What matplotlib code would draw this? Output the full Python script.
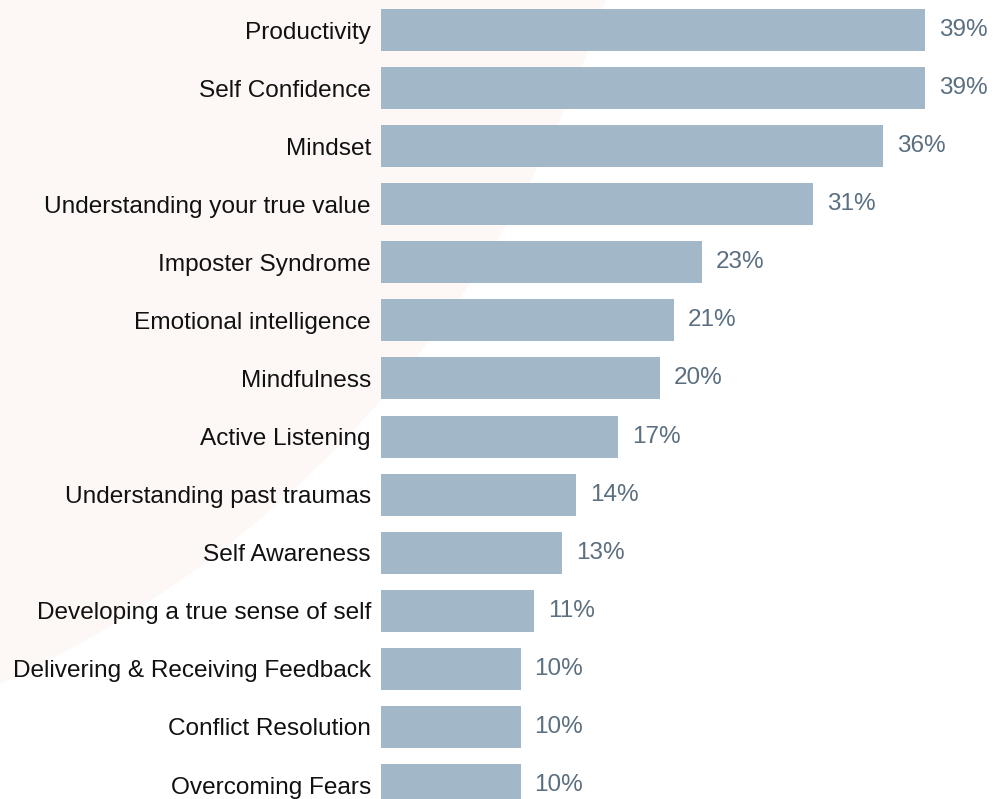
import matplotlib
matplotlib.use("Agg")
import matplotlib.pyplot as plt
from matplotlib.patches import Ellipse

categories = [
    "Productivity",
    "Self Confidence",
    "Mindset",
    "Understanding your true value",
    "Imposter Syndrome",
    "Emotional intelligence",
    "Mindfulness",
    "Active Listening",
    "Understanding past traumas",
    "Self Awareness",
    "Developing a true sense of self",
    "Delivering & Receiving Feedback",
    "Conflict Resolution",
    "Overcoming Fears",
]
values = [39, 39, 36, 31, 23, 21, 20, 17, 14, 13, 11, 10, 10, 10]

BAR_COLOR = "#a2b7c7"
VALUE_COLOR = "#5b6f80"
LABEL_COLOR = "#111111"
BLUSH = "#fdf8f5"

W, H = 1003, 799
plt.rcParams["font.family"] = ["Liberation Sans", "DejaVu Sans"]

fig = plt.figure(figsize=(W / 100, H / 100), dpi=100)
fig.patch.set_facecolor("white")

# soft blush disc behind everything, centred off the top-left corner
r = 1124
fig.patches.append(Ellipse((-466 / W, 1 + 339 / H), 2 * r / W, 2 * r / H,
                           transform=fig.transFigure, facecolor=BLUSH,
                           edgecolor="none", zorder=-10))

left = 381
ax = fig.add_axes([left / W, 0, 1 - left / W, 1])
ax.set_zorder(1)
ax.set_facecolor("none")

pos = list(range(len(categories)))
ax.barh(pos, values, height=0.723, color=BAR_COLOR, zorder=2)

px_per_pct = 13.95
ax.set_xlim(0, (W - left) / px_per_pct)
pitch = 58.08
ax.set_ylim((H - 30) / pitch, -30 / pitch)

for p, v in zip(pos, values):
    ax.text(v + 14 / px_per_pct, p, f"{v}%", va="center", ha="left",
            fontsize=17.5, color=VALUE_COLOR)

ax.set_yticks(pos)
ax.set_yticklabels(categories, fontsize=17.6, color=LABEL_COLOR)
ax.tick_params(axis="y", length=0, pad=7.2)
ax.set_xticks([])
for s in ax.spines.values():
    s.set_visible(False)

fig.savefig("out.png", dpi=100)
